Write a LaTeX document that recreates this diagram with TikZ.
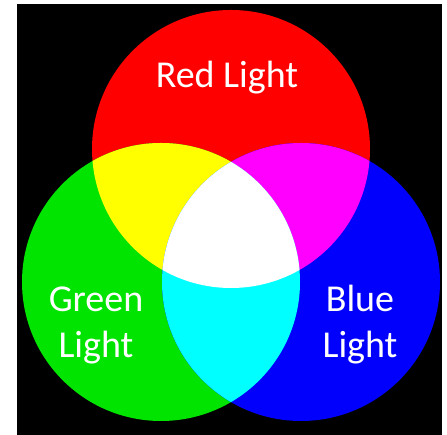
\documentclass[tikz,border=0pt]{standalone}
\usepackage{fontspec}
\setmainfont{Carlito}
\usepackage{xcolor}
\usetikzlibrary{positioning}

\definecolor{redlight}{HTML}{FF0000}
\definecolor{greenlight}{HTML}{00E400}
\definecolor{bluelight}{HTML}{0000FC}
\definecolor{yellowmix}{HTML}{FFFF00}
\definecolor{magentamix}{HTML}{FF00FF}
\definecolor{cyanmix}{HTML}{00FFFF}

\begin{document}
\begin{tikzpicture}[
    x=1pt, y=1pt,
    lamp/.style={fill=#1},
    lbl/.style={text=white, align=center, inner sep=0pt,
                font=\fontsize{38}{46}\selectfont},
]

% --- Canvas ---
\useasboundingbox[fill=white] (0,0) rectangle (447,435);
\fill[black] (17,0) rectangle (442,431);

% --- Centres of the three lights ---
\coordinate (rc) at (231,286);
\coordinate (gc) at (161,153);
\coordinate (bc) at (301,153);

% --- Primary lights ---
\fill[lamp=redlight]   (rc) circle (139);
\fill[lamp=greenlight] (gc) circle (139);
\fill[lamp=bluelight]  (bc) circle (139);

% --- Pairwise mixes ---
\begin{scope}
  \clip (rc) circle (139);
  \fill[lamp=yellowmix] (gc) circle (139);
\end{scope}
\begin{scope}
  \clip (rc) circle (139);
  \fill[lamp=magentamix] (bc) circle (139);
\end{scope}
\begin{scope}
  \clip (gc) circle (139);
  \fill[lamp=cyanmix] (bc) circle (139);
\end{scope}

% --- All three ---
\begin{scope}
  \clip (rc) circle (139);
  \clip (gc) circle (139);
  \fill[white] (bc) circle (139);
\end{scope}

% --- Labels ---
\node[lbl, anchor=base] (redlbl) at (227,347) {Red Light};
\node[lbl, anchor=base] (greenlbl) at (96,77) {Green\\Light};
\node[lbl, anchor=base] (bluelbl) at (360,77) {Blue\\Light};

\end{tikzpicture}
\end{document}
